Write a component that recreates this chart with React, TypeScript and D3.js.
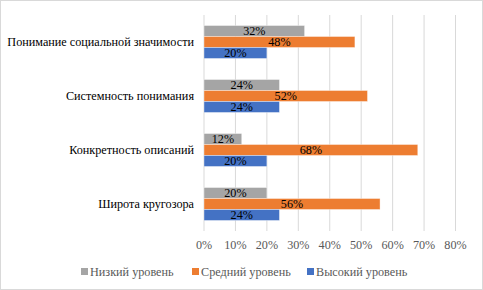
import React from "react";
import * as d3 from "d3";

const categories = [
  "Понимание социальной значимости",
  "Системность понимания",
  "Конкретность описаний",
  "Широта кругозора",
];
const seriesNames = ["Низкий уровень", "Средний уровень", "Высокий уровень"];
const low = [32, 24, 12, 20];
const mid = [48, 52, 68, 56];
const high = [20, 24, 20, 24];
const xTicks = [0, 10, 20, 30, 40, 50, 60, 70, 80];
const colors = ["#A5A5A5", "#ED7D31", "#4472C4"];

const W = 483;
const H = 290;
const font = "'Liberation Serif', 'Times New Roman', serif";
const FS = 12.2;

export default function App() {
  const seriesValues = [low, mid, high];
  const x = d3.scaleLinear().domain([0, 80]).range([204, 455.5]);
  const y = d3.scaleBand<string>().domain(categories).range([15, 231]).paddingInner(0.39).paddingOuter(0.195);
  const inner = d3.scaleBand<number>().domain([0, 1, 2]).range([0, y.bandwidth()]);
  const legendX = [81, 192, 307];
  return (
    <svg width={W} height={H} style={{ position: "absolute", left: 0, top: 0, background: "#fff" }}>
      <rect x={0.5} y={0.5} width={W - 1} height={H - 1} fill="#fff" stroke="#D9D9D9" />
      {xTicks.map((t) => (
        <line key={t} x1={x(t)} x2={x(t)} y1={15} y2={231} stroke="#D9D9D9" strokeWidth={1} />
      ))}
      {categories.map((c, i) => (
        <g key={c}>
          {seriesValues.map((vals, s) => {
            const y0 = (y(c) as number) + (inner(s) as number);
            const h = inner.bandwidth();
            return (
              <g key={s}>
                <rect x={x(0)} y={y0} width={x(vals[i]) - x(0)} height={h} fill={colors[s]} stroke="#fff" strokeOpacity={0.5} strokeWidth={0.75} />
                <text x={(x(0) + x(vals[i])) / 2} y={y0 + h / 2} dy="0.35em" textAnchor="middle" fontFamily={font} fontSize={FS} fill="#000">
                  {vals[i]}%
                </text>
              </g>
            );
          })}
          <text x={194} y={(y(c) as number) + y.bandwidth() / 2} dy="0.35em" textAnchor="end" fontFamily={font} fontSize={FS} fill="#000">
            {c}
          </text>
        </g>
      ))}
      {xTicks.map((t) => (
        <text key={t} x={x(t)} y={245} dy="0.35em" textAnchor="middle" fontFamily={font} fontSize={FS} fill="#595959">
          {t}%
        </text>
      ))}
      {seriesNames.map((n, s) => (
        <g key={n}>
          <rect x={legendX[s]} y={268} width={7} height={7} fill={colors[s]} />
          <text x={legendX[s] + 9} y={272} dy="0.35em" fontFamily={font} fontSize={FS} fill="#595959">
            {n}
          </text>
        </g>
      ))}
    </svg>
  );
}
